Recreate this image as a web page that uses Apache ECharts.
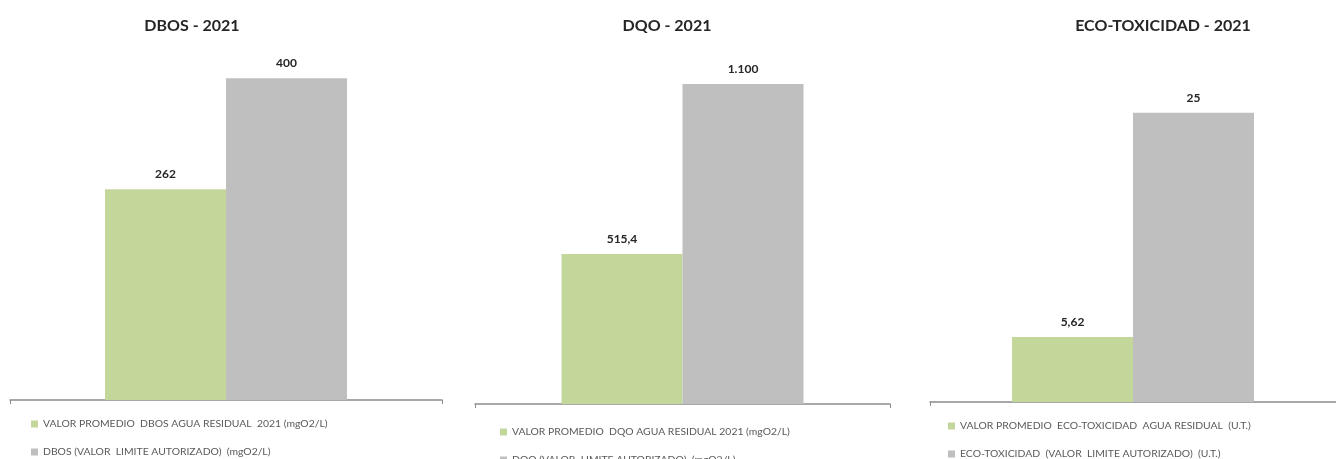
<!DOCTYPE html>
<html>
<head>
<meta charset="utf-8">
<script src="https://cdn.jsdelivr.net/npm/echarts@6/dist/echarts.min.js"></script>
<style>
  html, body { margin: 0; padding: 0; background: #fff; }
  #chart { width: 1336px; height: 459px; }
</style>
</head>
<body>
<div id="chart"></div>
<script>
// data
var titles = ["DBOS - 2021", "DQO - 2021", "ECO-TOXICIDAD - 2021"];
var promedioNames = [
  "VALOR PROMEDIO  DBOS AGUA RESIDUAL  2021 (mgO2/L)",
  "VALOR PROMEDIO  DQO AGUA RESIDUAL 2021 (mgO2/L)",
  "VALOR PROMEDIO  ECO-TOXICIDAD  AGUA RESIDUAL  (U.T.)"
];
var limiteNames = [
  "DBOS (VALOR  LIMITE AUTORIZADO)  (mgO2/L)",
  "DQO (VALOR  LIMITE AUTORIZADO)  (mgO2/L)",
  "ECO-TOXICIDAD  (VALOR  LIMITE AUTORIZADO)  (U.T.)"
];
var promedioValues = [262, 515.4, 5.62];
var limiteValues = [400, 1100, 25];
var axisMax = [450, 1200, 30];

// panel layout
var gridLeft = [10, 475, 930];
var gridWidth = [432, 415, 418];
var gridTop = [38, 55, 55];
var gridBottom = [59, 55, 57];
var titleX = [187, 662, 1158];
var legendLeft = [26, 495, 943];
var legendTop = [414, 422, 416];   // first row; second row 28px lower

var green = "#c4d79b";
var gray = "#bfbfbf";

// 1.100 / 515,4 style
function fmt(v) {
  var parts = String(v).split(".");
  parts[0] = parts[0].replace(/\B(?=(\d{3})+(?!\d))/g, ".");
  return parts.join(",");
}

var chart = echarts.init(document.getElementById("chart"));

var option = {
  backgroundColor: "#fff",
  animation: false,
  title: [],
  legend: [],
  grid: [],
  xAxis: [],
  yAxis: [],
  series: []
};

function legendItem(name, left, top) {
  return {
    left: left,
    top: top,
    itemWidth: 7,
    itemHeight: 7,
    icon: "rect",
    data: [name],
    textStyle: { fontFamily: "Lato", fontSize: 10.4, color: "#595959" }
  };
}

for (var i = 0; i < 3; i++) {
  option.title.push({
    text: titles[i],
    left: titleX[i],
    top: 13,
    textAlign: "center",
    textStyle: { fontFamily: "Lato", fontWeight: "bold", fontSize: 16, color: "#262626" }
  });
  option.legend.push(legendItem(promedioNames[i], legendLeft[i], legendTop[i]));
  option.legend.push(legendItem(limiteNames[i], legendLeft[i], legendTop[i] + 28));
  option.grid.push({
    left: gridLeft[i],
    width: gridWidth[i],
    top: gridTop[i],
    bottom: gridBottom[i]
  });
  option.xAxis.push({
    type: "category",
    gridIndex: i,
    data: [""],
    axisLine: { show: true, lineStyle: { color: "#8c8c8c", width: 1.5 } },
    axisTick: { show: true, length: 4, lineStyle: { color: "#8c8c8c" } },
    axisLabel: { show: false }
  });
  option.yAxis.push({
    type: "value",
    gridIndex: i,
    min: 0,
    max: axisMax[i],
    show: false,
    splitLine: { show: false }
  });
  var lbl = {
    show: true,
    position: "top",
    distance: 9,
    fontFamily: "Lato",
    fontWeight: "bold",
    fontSize: 12,
    color: "#262626",
    formatter: function (p) { return fmt(p.value); }
  };
  option.series.push({
    name: promedioNames[i],
    type: "bar",
    xAxisIndex: i,
    yAxisIndex: i,
    data: [promedioValues[i]],
    barWidth: 121,
    barGap: "0%",
    itemStyle: { color: green },
    label: lbl
  });
  option.series.push({
    name: limiteNames[i],
    type: "bar",
    xAxisIndex: i,
    yAxisIndex: i,
    data: [limiteValues[i]],
    barWidth: 121,
    barGap: "0%",
    itemStyle: { color: gray },
    label: lbl
  });
}

chart.setOption(option);
</script>
</body>
</html>
